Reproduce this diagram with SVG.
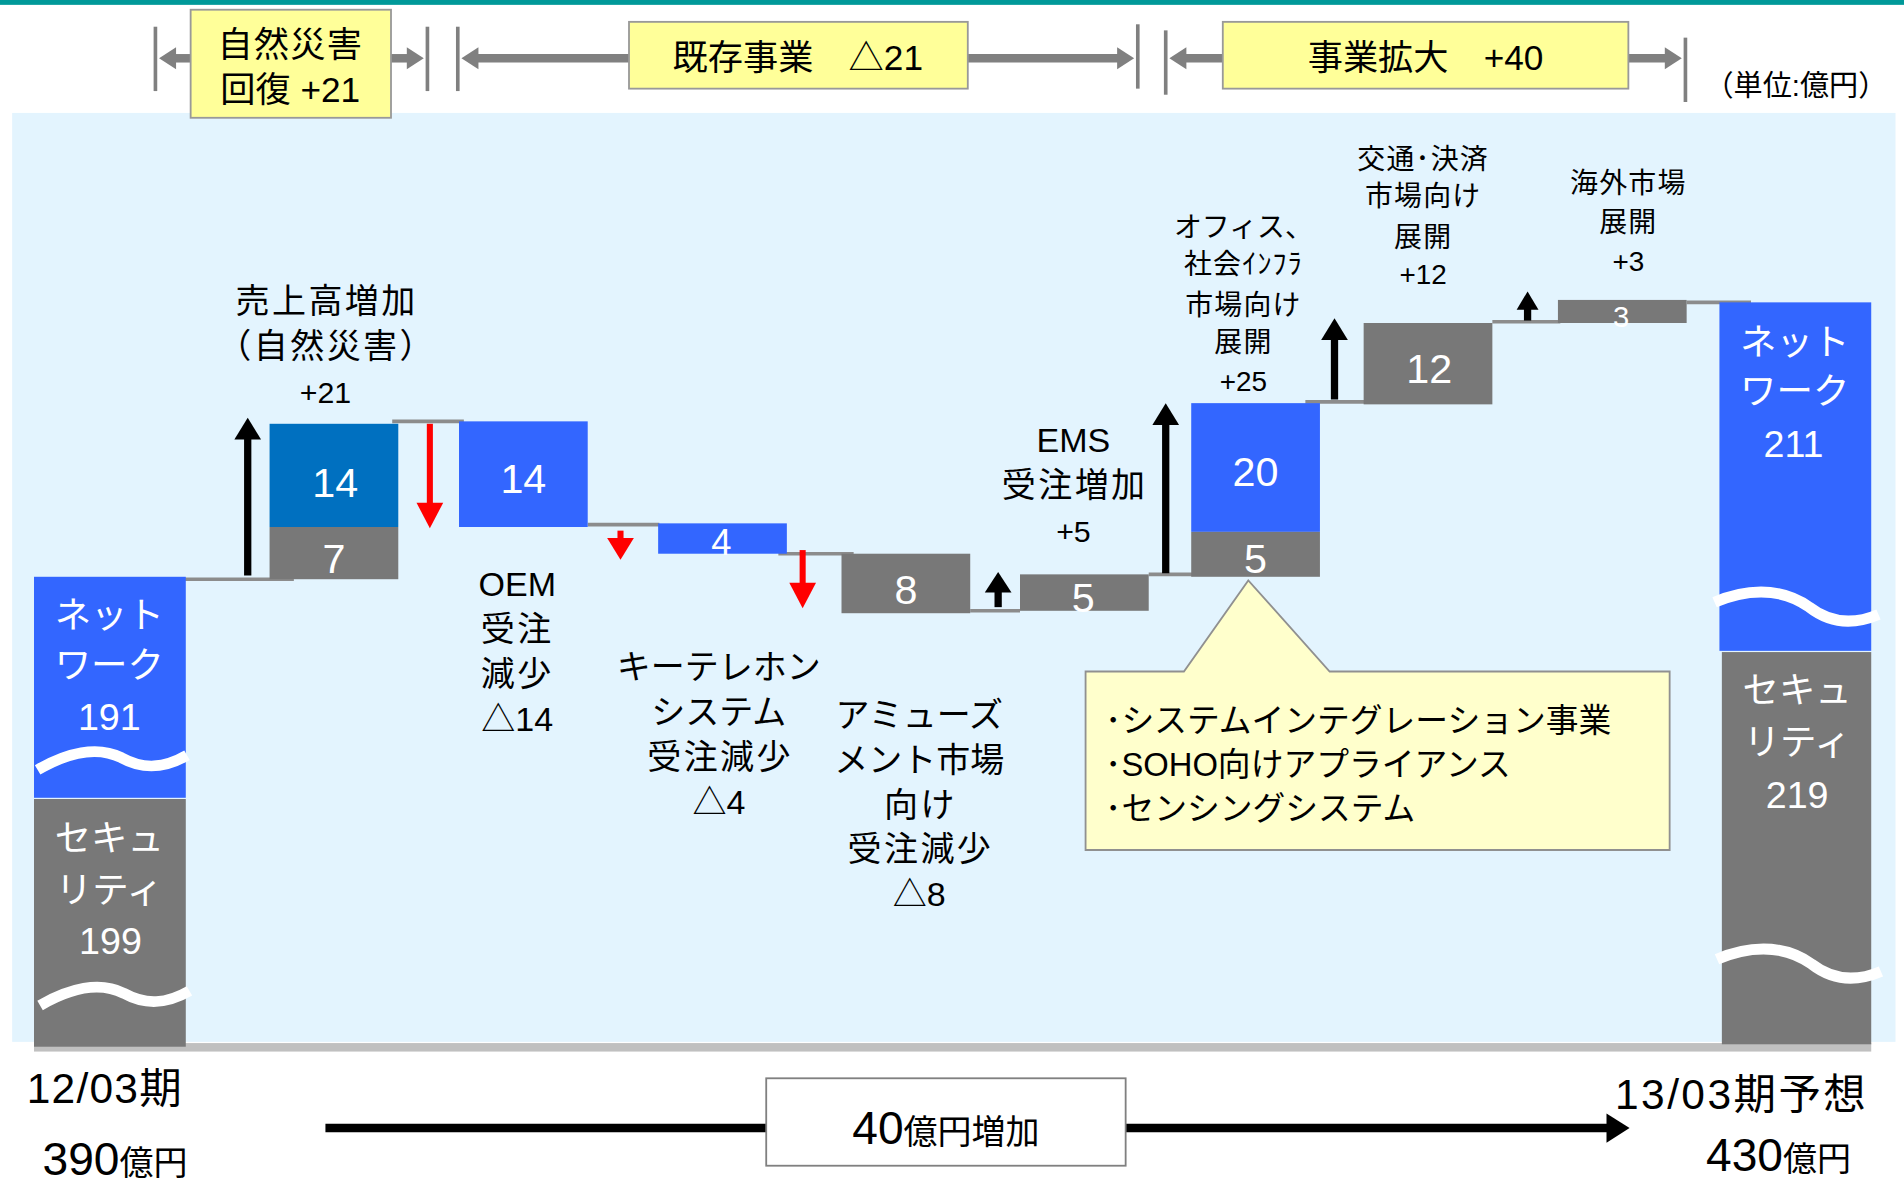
<svg xmlns="http://www.w3.org/2000/svg" width="1904" height="1189" viewBox="0 0 1904 1189">
<defs>
<style>
.t{font-family:"Liberation Sans","Noto Sans CJK JP",sans-serif;fill:#000;text-anchor:middle}
.s{font-family:"Liberation Sans","Noto Sans CJK JP",sans-serif;fill:#000;text-anchor:start}
.w{font-family:"Liberation Sans","Noto Sans CJK JP",sans-serif;fill:#fff;text-anchor:middle}
.n{font-family:"Liberation Sans","Noto Sans CJK JP",sans-serif;fill:#fff;text-anchor:middle}
.blue{fill:#3366FF}
.dblue{fill:#0070C0}
.grey{fill:#787878}
.step{stroke:#8C8C8C;stroke-width:3;fill:none}
.wave{stroke:#fff;stroke-width:9;fill:none}
.br{stroke:#808080;stroke-width:3;fill:none}
.brs{stroke:#808080;stroke-width:7;fill:none}
.ybox{fill:#FFFF99;stroke:#999;stroke-width:1.5}
.k{letter-spacing:2px}
</style>
</defs>
<rect x="0" y="0" width="1904" height="1189" fill="#fff"/>
<g transform="scale(1.21429)">
<rect x="0" y="0" width="1568" height="4" fill="#009999"/>
<rect id="panel" x="10" y="93" width="1551" height="765" fill="#E3F4FE"/>
<rect x="28" y="859" width="1513" height="7" fill="#C0C0C0"/>

<!-- top brackets -->
<g id="bracket-disaster">
<line class="br" x1="128" y1="22" x2="128" y2="75"/>
<line class="br" x1="352" y1="22" x2="352" y2="75"/>
<line class="brs" x1="142" y1="48" x2="158" y2="48"/>
<polygon points="131,48 145,39 145,57" fill="#808080"/>
<line class="brs" x1="322" y1="48" x2="338" y2="48"/>
<polygon points="349,48 335,39 335,57" fill="#808080"/>
<rect class="ybox" x="157" y="8" width="165" height="89"/>
<text class="t" x="239" y="47" font-size="29" letter-spacing="1">自然災害</text>
<text class="t" x="239" y="84" font-size="29">回復 +21</text>
</g>
<g id="bracket-existing">
<line class="br" x1="377" y1="22" x2="377" y2="75"/>
<line class="br" x1="937" y1="20" x2="937" y2="73"/>
<line class="brs" x1="392" y1="48" x2="519" y2="48"/>
<polygon points="380,48 394,39 394,57" fill="#808080"/>
<line class="brs" x1="796" y1="48" x2="922" y2="48"/>
<polygon points="934,48 920,39 920,57" fill="#808080"/>
<rect class="ybox" x="518" y="18" width="279" height="55"/>
<text class="t" x="657" y="58" font-size="29">既存事業　△21</text>
</g>
<g id="bracket-expand">
<line class="br" x1="960" y1="25" x2="960" y2="78"/>
<line class="br" x1="1388" y1="31" x2="1388" y2="84"/>
<line class="brs" x1="975" y1="48" x2="1008" y2="48"/>
<polygon points="963,48 977,39 977,57" fill="#808080"/>
<line class="brs" x1="1340" y1="48" x2="1372" y2="48"/>
<polygon points="1385,48 1371,39 1371,57" fill="#808080"/>
<rect class="ybox" x="1007" y="18" width="334" height="55"/>
<text class="t" x="1174" y="58" font-size="29">事業拡大　+40</text>
</g>
<text id="unit" class="t" x="1479" y="79" font-size="24">（単位:億円）</text>

<!-- connectors -->
<g id="connectors">
<line class="step" x1="140" y1="477" x2="242" y2="477"/>
<line class="step" x1="323" y1="347" x2="382" y2="347"/>
<line class="step" x1="484" y1="432" x2="543" y2="432"/>
<line class="step" x1="641" y1="456" x2="703" y2="456"/>
<line class="step" x1="799" y1="503" x2="840" y2="503"/>
<line class="step" x1="946" y1="473" x2="982" y2="473"/>
<line class="step" x1="1075" y1="331" x2="1128" y2="331"/>
<line class="step" x1="1229" y1="265" x2="1285" y2="265"/>
<line class="step" x1="1389" y1="249" x2="1442" y2="249"/>

<line x1="204" y1="474" x2="204" y2="358" stroke="#000" stroke-width="6"/>
<polygon points="204,344 193,362 215,362" fill="#000"/>
<line x1="822" y1="500" x2="822" y2="484" stroke="#000" stroke-width="6"/>
<polygon points="822,471 811,488 833,488" fill="#000"/>
<line x1="960" y1="472" x2="960" y2="346" stroke="#000" stroke-width="6"/>
<polygon points="960,332 949,350 971,350" fill="#000"/>
<line x1="1099" y1="329" x2="1099" y2="276" stroke="#000" stroke-width="6"/>
<polygon points="1099,262 1088,280 1110,280" fill="#000"/>
<line x1="1258" y1="264" x2="1258" y2="252" stroke="#000" stroke-width="6"/>
<polygon points="1258,240 1249,255 1267,255" fill="#000"/>

<line x1="354" y1="349" x2="354" y2="418" stroke="#FF0000" stroke-width="5"/>
<polygon points="354,435 343,414 365,414" fill="#FF0000"/>
<line x1="511" y1="437" x2="511" y2="446" stroke="#FF0000" stroke-width="5"/>
<polygon points="511,461 500,443 522,443" fill="#FF0000"/>
<line x1="661" y1="453" x2="661" y2="484" stroke="#FF0000" stroke-width="5"/>
<polygon points="661,501 650,480 672,480" fill="#FF0000"/>

<line x1="268" y1="929" x2="1328" y2="929" stroke="#000" stroke-width="7"/>
<polygon points="1342,929 1323,917 1323,941" fill="#000"/>
</g>

<g id="start-bar">
<rect class="blue" x="28" y="475" width="125" height="182"/>
<rect class="grey" x="28" y="658" width="125" height="204"/>
<path class="wave" d="M31,634 C55,620 80,614 100,624 C118,634 135,633 154,622"/>
<path class="wave" d="M33,828 C57,814 82,808 102,818 C120,828 137,827 156,816"/>
<text class="w" x="90" y="517" font-size="30">ネット</text>
<text class="w" x="90" y="558" font-size="30">ワーク</text>
<text class="n" x="90" y="601" font-size="31">191</text>
<text class="w" x="90" y="701" font-size="30">セキュ</text>
<text class="w" x="90" y="744" font-size="30">リティ</text>
<text class="n" x="91" y="786" font-size="31">199</text>
</g>

<g id="bar-disaster">
<rect class="dblue" x="222" y="349" width="106" height="85"/>
<rect class="grey" x="222" y="434" width="106" height="43"/>
<text class="n" x="276" y="409" font-size="34">14</text>
<text class="n" x="275" y="472" font-size="34">7</text>
</g>
<g id="label-disaster">
<text class="t k" x="269" y="258" font-size="28">売上高増加</text>
<text class="t k" x="269" y="295" font-size="28">（自然災害）</text>
<text class="t" x="268" y="332" font-size="25">+21</text>
</g>

<g id="bar-oem">
<rect class="blue" x="378" y="347" width="106" height="87"/>
<text class="n" x="431" y="406" font-size="34">14</text>
</g>
<g id="label-oem">
<text class="t" x="426" y="491" font-size="28">OEM</text>
<text class="t k" x="426" y="528" font-size="28">受注</text>
<text class="t k" x="426" y="565" font-size="28">減少</text>
<text class="t" x="426" y="602" font-size="28">△14</text>
</g>

<g id="bar-keytel">
<rect class="blue" x="542" y="431" width="106" height="25"/>
<text class="n" x="594" y="457" font-size="30">4</text>
</g>
<g id="label-keytel">
<text class="t" x="592" y="559" font-size="28">キーテレホン</text>
<text class="t" x="592" y="596" font-size="28">システム</text>
<text class="t k" x="593" y="633" font-size="28">受注減少</text>
<text class="t" x="592" y="670" font-size="28">△4</text>
</g>

<g id="bar-amuse">
<rect class="grey" x="693" y="456" width="106" height="49"/>
<text class="n" x="746" y="497" font-size="34">8</text>
</g>
<g id="label-amuse">
<text class="t" x="757" y="599" font-size="28">アミューズ</text>
<text class="t" x="757" y="636" font-size="28">メント市場</text>
<text class="t k" x="758" y="673" font-size="28">向け</text>
<text class="t k" x="758" y="709" font-size="28">受注減少</text>
<text class="t" x="757" y="746" font-size="28">△8</text>
</g>

<g id="bar-ems">
<rect class="grey" x="840" y="473" width="106" height="30"/>
<text class="n" x="892" y="504" font-size="34">5</text>
</g>
<g id="label-ems">
<text class="t" x="884" y="372" font-size="28">EMS</text>
<text class="t k" x="885" y="409" font-size="28">受注増加</text>
<text class="t" x="884" y="446" font-size="25">+5</text>
</g>

<g id="bar-office">
<rect class="blue" x="981" y="332" width="106" height="106"/>
<rect class="grey" x="981" y="438" width="106" height="37"/>
<text class="n" x="1034" y="400" font-size="34">20</text>
<text class="n" x="1034" y="472" font-size="34">5</text>
</g>
<g id="label-office">
<text class="t" x="1024" y="195" font-size="23">オフィス、</text>
<text class="t" x="1024" y="226" font-size="23" letter-spacing="1">社会ｲﾝﾌﾗ</text>
<text class="t" x="1024" y="259" font-size="23" letter-spacing="1">市場向け</text>
<text class="t" x="1024" y="290" font-size="23" letter-spacing="1">展開</text>
<text class="t" x="1024" y="322" font-size="23">+25</text>
</g>

<g id="bar-traffic">
<rect class="grey" x="1123" y="266" width="106" height="67"/>
<text class="n" x="1177" y="315" font-size="34">12</text>
</g>
<g id="label-traffic">
<text class="t" x="1172" y="139" font-size="23" letter-spacing="1">交通･決済</text>
<text class="t" x="1172" y="170" font-size="23" letter-spacing="1">市場向け</text>
<text class="t" x="1172" y="203" font-size="23" letter-spacing="1">展開</text>
<text class="t" x="1172" y="234" font-size="23">+12</text>
</g>

<g id="bar-overseas">
<rect class="grey" x="1283" y="247" width="106" height="19"/>
<text class="n" x="1335" y="269" font-size="24">3</text>
</g>
<g id="label-overseas">
<text class="t" x="1341" y="159" font-size="23" letter-spacing="1">海外市場</text>
<text class="t" x="1341" y="191" font-size="23" letter-spacing="1">展開</text>
<text class="t" x="1341" y="223" font-size="23">+3</text>
</g>

<g id="end-bar">
<rect class="blue" x="1416" y="249" width="125" height="287"/>
<rect class="grey" x="1418" y="537" width="123" height="323"/>
<path class="wave" d="M1412,496 C1435,486 1465,482 1490,500 C1508,514 1528,514 1547,506"/>
<path class="wave" d="M1414,790 C1437,780 1467,776 1492,794 C1510,808 1530,808 1549,800"/>
<text class="w" x="1478" y="292" font-size="30">ネット</text>
<text class="w" x="1478" y="333" font-size="30">ワーク</text>
<text class="n" x="1477" y="376" font-size="31">211</text>
<text class="w" x="1480" y="579" font-size="30">セキュ</text>
<text class="w" x="1480" y="622" font-size="30">リティ</text>
<text class="n" x="1480" y="665" font-size="31">219</text>
</g>

<g id="callout">
<path d="M894,553 L975,553 L1028,478 L1095,553 L1375,553 L1375,700 L894,700 Z" fill="#FFFFCC" stroke="#909090" stroke-width="1.5"/>
<text class="s" x="910" y="603" font-size="27">･システムインテグレーション事業</text>
<text class="s" x="910" y="639" font-size="27">･SOHO向けアプライアンス</text>
<text class="s" x="910" y="675" font-size="27">･センシングシステム</text>
</g>

<g id="bottom">
<text class="s" x="22" y="908" font-size="35" letter-spacing="1">12/03期</text>
<text class="s" x="35" y="968" font-size="38">390<tspan font-size="28">億円</tspan></text>
<rect x="631" y="888" width="296" height="72" fill="#fff" stroke="#808080" stroke-width="1.5"/>
<text class="t" x="779" y="942" font-size="38">40<tspan font-size="28">億円増加</tspan></text>
<text class="s" x="1330" y="913" font-size="35" letter-spacing="2">13/03期予想</text>
<text class="s" x="1405" y="964" font-size="38">430<tspan font-size="28">億円</tspan></text>
</g>
</g>
</svg>
